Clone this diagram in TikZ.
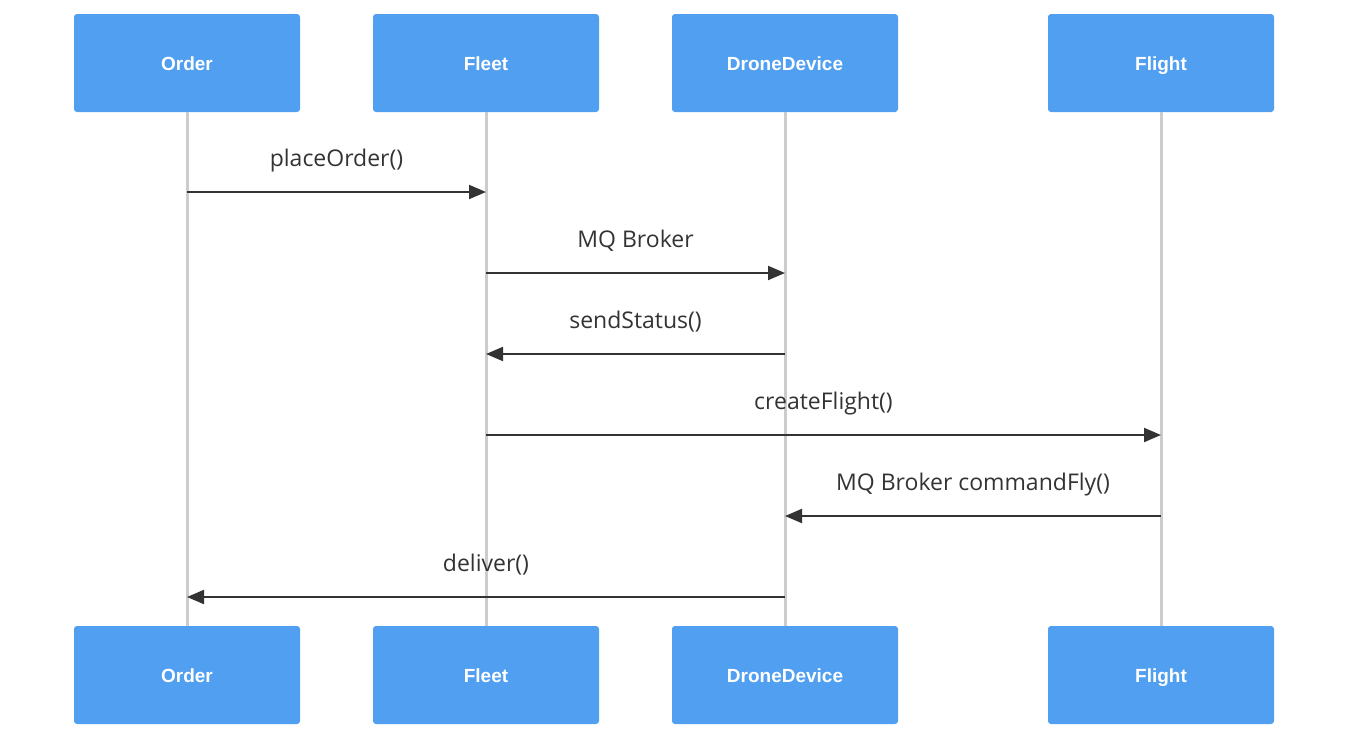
\documentclass[tikz,border=0pt]{standalone}
\usepackage{fontspec}
\setmainfont{Open Sans}
\newfontfamily\actorfont{Liberation Sans}
\usetikzlibrary{arrows.meta, positioning}
\definecolor{actorblue}{HTML}{519FF0}
\definecolor{msggray}{HTML}{333333}
\definecolor{lifegray}{HTML}{CCCCCC}
\tikzset{
    actor/.style={draw=none, fill=actorblue, rounded corners=3pt, minimum width=226pt,
      minimum height=98pt, text=white, text height=14pt, text depth=0pt,
      font=\actorfont\bfseries\fontsize{19}{22}\selectfont},
    lifeline/.style={draw=lifegray, line width=3pt},
    msg/.style={draw=msggray, line width=2pt, -{Triangle[length=17pt, width=14pt]}},
    msglabel/.style={text=msggray, anchor=base, yshift=26pt, font=\fontsize{23}{27}\selectfont}
  }

\begin{document}
\begin{tikzpicture}[x=1pt, y=-1pt]
            \useasboundingbox (0,0) rectangle (1348,740);
            % actors, top and bottom
            \foreach \name/\txt/\xc in {order/Order/187, fleet/Fleet/486, drone/DroneDevice/785, flight/Flight/1161} {
                \node (\name top) [actor] at (\xc, 63) {\txt};
                \node (\name bot) [actor] at (\xc, 675) {\txt};
                \draw[lifeline] (\name top.south) -- (\name bot.north);
            }
            % message rows
            \foreach \i/\yc in {1/192, 2/273, 3/354, 4/435, 5/516, 6/597}
                \coordinate (m\i) at (0, \yc);
            \draw[msg] (ordertop |- m1) -- node[msglabel] {placeOrder()} (fleettop |- m1);
            \draw[msg] (fleettop |- m2) -- node[msglabel] {MQ Broker} (dronetop |- m2);
            \draw[msg] (dronetop |- m3) -- node[msglabel] {sendStatus()} (fleettop |- m3);
            \draw[msg] (fleettop |- m4) -- node[msglabel] {createFlight()} (flighttop |- m4);
            \draw[msg] (flighttop |- m5) -- node[msglabel] {MQ Broker commandFly()} (dronetop |- m5);
            \draw[msg] (dronetop |- m6) -- node[msglabel] {deliver()} (ordertop |- m6);
        \end{tikzpicture}
\end{document}
